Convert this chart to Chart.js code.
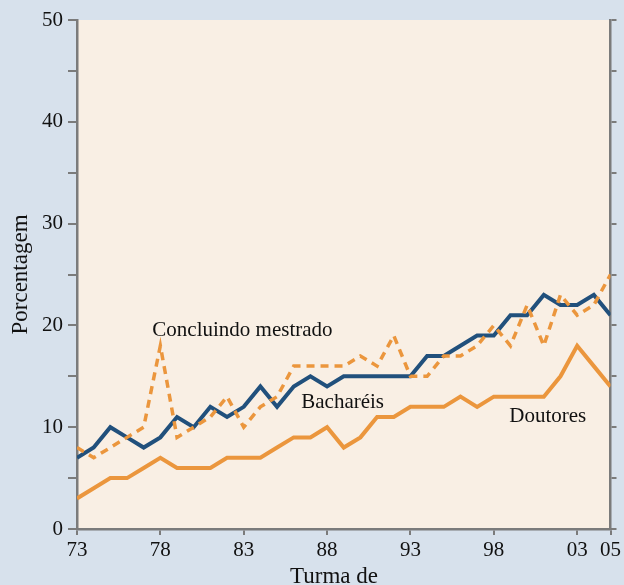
<!DOCTYPE html>
<html>
<head>
<meta charset="utf-8">
<script src="https://cdn.jsdelivr.net/npm/chart.js@4"></script>
<style>
  html, body { margin: 0; padding: 0; background: #d7e1ec; }
  #wrap { width: 624px; height: 585px; }
</style>
</head>
<body>
<div id="wrap"><canvas id="c" width="624" height="585"></canvas></div>
<script>
// ---- data ----
const years = [1973,1974,1975,1976,1977,1978,1979,1980,1981,1982,1983,1984,1985,1986,1987,1988,1989,1990,1991,1992,1993,1994,1995,1996,1997,1998,1999,2000,2001,2002,2003,2004,2005];
const concluindoMestrado = [8,7,8,9,10,18,9,10,11,13,10,12,13,16,16,16,16,17,16,19,15,15,17,17,18,20,18,22,18,23,21,22,25];
const bachareis = [7,8,10,9,8,9,11,10,12,11,12,14,12,14,15,14,15,15,15,15,15,17,17,18,19,19,21,21,23,22,22,23,21];
const doutores = [3,4,5,5,6,7,6,6,6,7,7,7,8,9,9,10,8,9,11,11,12,12,12,13,12,13,13,13,13,15,18,16,14];
const xTickValues = [1973,1978,1983,1988,1993,1998,2003,2005];
const xTickLabels = ["73","78","83","88","93","98","03","05"];
const yTickLabels = {0:"0",10:"10",20:"20",30:"30",40:"40",50:"50"};
const seriesNames = ["Concluindo mestrado","Bacharéis","Doutores"];
const xTitle = "Turma de";
const yTitle = "Porcentagem";

// ---- styles / layout ----
const SERIF = "'Liberation Serif', 'Times New Roman', serif";
const BLUE = '#21507c';
const ORANGE = '#eb963d';
const AXIS = '#7b7b7b';
const annotationPos = [
  {x: 1977.52, y: 18.96},
  {x: 1986.45, y: 11.89},
  {x: 1998.93, y: 10.51}
];

const toXY = arr => arr.map((v, i) => ({x: years[i], y: v}));

const bgPlugin = {
  id: 'bg',
  beforeDraw(chart) {
    const {ctx, chartArea: a} = chart;
    ctx.save();
    ctx.fillStyle = '#d7e1ec';
    ctx.fillRect(0, 0, chart.width, chart.height);
    ctx.fillStyle = '#f9efe4';
    ctx.fillRect(a.left, a.top, a.right - a.left, a.bottom - a.top);
    ctx.restore();
  }
};

const labelPlugin = {
  id: 'labels',
  afterDatasetsDraw(chart) {
    const {ctx, scales} = chart;
    ctx.save();
    ctx.font = '21px ' + SERIF;
    ctx.fillStyle = '#111';
    ctx.textAlign = 'left';
    ctx.textBaseline = 'alphabetic';
    seriesNames.forEach((name, i) => {
      const p = annotationPos[i];
      ctx.fillText(name, scales.x.getPixelForValue(p.x), scales.y.getPixelForValue(p.y));
    });
    // x-axis title (slightly left of the plot centre, as in the source)
    ctx.font = '23px ' + SERIF;
    ctx.textAlign = 'center';
    ctx.fillText(xTitle, 334, 583);
    ctx.restore();
  }
};

new Chart(document.getElementById('c'), {
  type: 'line',
  data: {
    datasets: [
      {
        label: seriesNames[0],
        data: toXY(concluindoMestrado),
        borderColor: ORANGE,
        borderWidth: 3.5,
        borderDash: [8, 6],
        pointRadius: 0,
        tension: 0,
        fill: false
      },
      {
        label: seriesNames[1],
        data: toXY(bachareis),
        borderColor: BLUE,
        borderWidth: 4,
        pointRadius: 0,
        tension: 0,
        fill: false
      },
      {
        label: seriesNames[2],
        data: toXY(doutores),
        borderColor: ORANGE,
        borderWidth: 4,
        pointRadius: 0,
        tension: 0,
        fill: false
      }
    ]
  },
  options: {
    responsive: false,
    animation: false,
    devicePixelRatio: 1,
    layout: { padding: { top: 20, left: 0, right: 0, bottom: 0 } },
    plugins: { legend: { display: false }, tooltip: { enabled: false } },
    scales: {
      x: {
        type: 'linear',
        min: 1973,
        max: 2005,
        afterBuildTicks(scale) { scale.ticks = xTickValues.map(v => ({value: v})); },
        afterFit(scale) { scale.height = 56; },
        border: { display: true, color: AXIS, width: 2.5 },
        grid: { drawOnChartArea: false, drawTicks: true, tickLength: 6, color: AXIS, lineWidth: 2, tickWidth: 2 },
        ticks: {
          autoSkip: false,
          maxRotation: 0,
          padding: 3,
          color: '#111',
          font: { family: SERIF, size: 21 },
          callback: (v) => { const i = xTickValues.indexOf(v); return i >= 0 ? xTickLabels[i] : ''; }
        },
        title: { display: false }
      },
      y: {
        position: 'left',
        min: 0,
        max: 50,
        afterFit(scale) { scale.width = 77; },
        border: { display: true, color: AXIS, width: 2.5 },
        grid: { drawOnChartArea: false, drawTicks: true, tickLength: 9, color: AXIS, lineWidth: 2, tickWidth: 2 },
        ticks: {
          stepSize: 5,
          padding: 5,
          color: '#111',
          font: { family: SERIF, size: 21 },
          callback: (v) => (yTickLabels[v] !== undefined ? yTickLabels[v] : '')
        },
        title: {
          display: true,
          text: yTitle,
          color: '#111',
          font: { family: SERIF, size: 23, lineHeight: 1 },
          padding: { top: 9, bottom: 0 }
        }
      },
      y2: {
        position: 'right',
        min: 0,
        max: 50,
        afterFit(scale) { scale.width = 9; },
        border: { display: true, color: AXIS, width: 2.5 },
        grid: { drawOnChartArea: false, drawTicks: true, tickLength: 6, color: AXIS, lineWidth: 2, tickWidth: 2 },
        ticks: { stepSize: 5, display: false }
      }
    }
  },
  plugins: [bgPlugin, labelPlugin]
});
</script>
</body>
</html>
